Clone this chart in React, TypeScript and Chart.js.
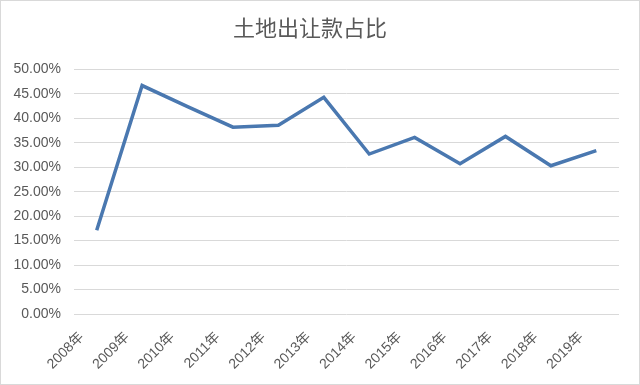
import React, { useEffect, useRef } from "react";
import { Chart, registerables } from "chart.js";

Chart.register(...registerables);

const titleText = "土地出让款占比";
const categories = ["2008年", "2009年", "2010年", "2011年", "2012年", "2013年", "2014年", "2015年", "2016年", "2017年", "2018年", "2019年"];
const shareValues = [17.1, 46.7, 42.4, 38.2, 38.6, 44.3, 32.7, 36.1, 30.7, 36.3, 30.3, 33.4];
const yMin = 0;
const yMax = 50;
const yStep = 5;

export default function App() {
  const ref = useRef<HTMLCanvasElement>(null);
  useEffect(() => {
    document.body.style.margin = "0";
    const font = "'Liberation Sans', 'Noto Sans CJK SC', sans-serif";
    const chart = new Chart(ref.current!, {
      type: "line",
      data: {
        labels: categories,
        datasets: [
          {
            data: shareValues,
            borderColor: "#4A78B0",
            backgroundColor: "#4A78B0",
            borderWidth: 3.5,
            pointRadius: 0,
            tension: 0,
            borderJoinStyle: "miter",
          },
        ],
      },
      options: {
        animation: false,
        responsive: false,
        layout: { padding: { left: 0, right: 20, top: 0, bottom: 0 } },
        plugins: {
          legend: { display: false },
          tooltip: { enabled: false },
          title: {
            display: true,
            text: titleText,
            color: "#595959",
            font: { family: "'Noto Sans CJK SC', sans-serif", size: 22, weight: "normal" },
            padding: { top: 13, bottom: 29 },
          },
        },
        scales: {
          x: {
            offset: true,
            grid: { display: false, drawTicks: false },
            border: { display: false },
            ticks: {
              color: "#595959",
              font: { family: font, size: 14 },
              minRotation: 45,
              maxRotation: 45,
              autoSkip: false,
              padding: 15,
              labelOffset: -15,
            },
            afterFit: (s: any) => {
              s.height = 70;
            },
          },
          y: {
            min: yMin,
            max: yMax,
            grid: { color: "#D9D9D9", lineWidth: 1, drawTicks: false },
            border: { display: false },
            ticks: {
              stepSize: yStep,
              color: "#595959",
              font: { family: font, size: 14 },
              padding: 13,
              callback: (v: any) => Number(v).toFixed(2) + "%",
            },
            afterFit: (s: any) => {
              s.width = 73;
            },
          },
        },
      },
    });
    return () => chart.destroy();
  }, []);
  return (
    <div
      style={{
        position: "relative",
        width: 640,
        height: 385,
        boxSizing: "border-box",
        border: "1px solid #D9D9D9",
        background: "#fff",
      }}
    >
      <canvas ref={ref} width={638} height={383} style={{ display: "block" }} />
    </div>
  );
}
